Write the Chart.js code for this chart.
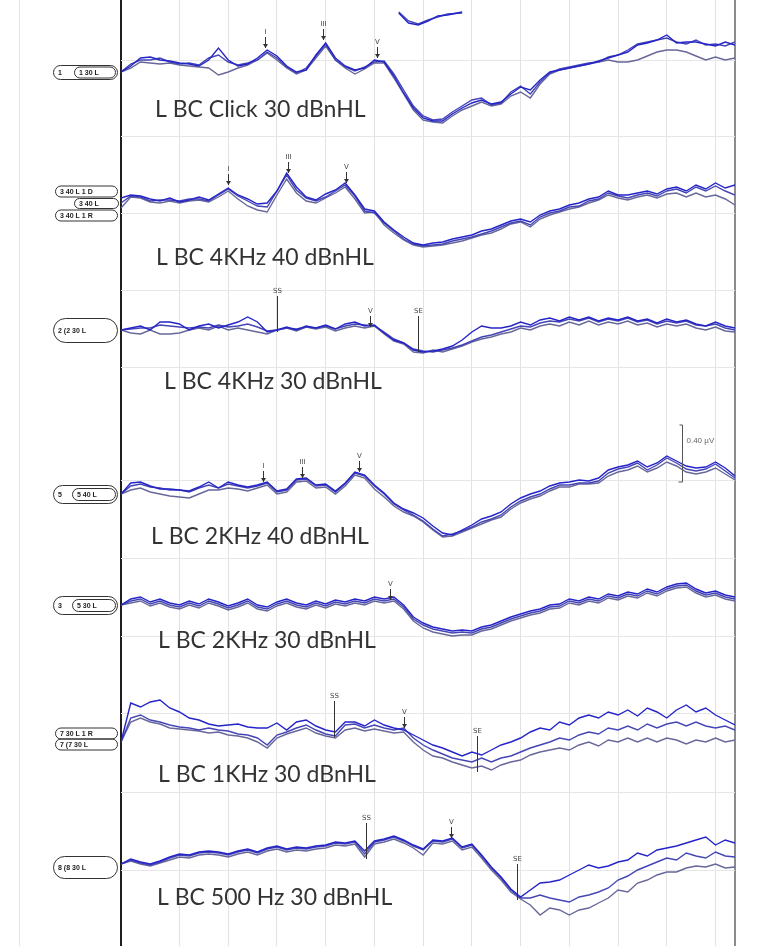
<!DOCTYPE html>
<html>
<head>
<meta charset="utf-8">
<script src="https://cdn.jsdelivr.net/npm/chart.js@4.4.0/dist/chart.umd.min.js"></script>
<style>
  html, body { margin: 0; padding: 0; background: #fff; }
  #wrap { width: 769px; height: 946px; position: relative; }
</style>
</head>
<body>
<div id="wrap"><canvas id="abr" width="769" height="946"></canvas></div>
<script>
// sample times (ms), one sample every 0.2 ms
const times = [-0.2,0,0.2,0.4,0.6,0.8,1,1.2,1.4,1.6,1.8,2,2.2,2.4,2.6,2.8,3,3.2,3.4,3.6,3.8,4,4.2,4.4,4.6,4.8,5,5.2,5.4,5.6,5.8,6,6.2,6.4,6.6,6.8,7,7.2,7.4,7.6,7.8,8,8.2,8.4,8.6,8.8,9,9.2,9.4,9.6,9.8,10,10.2,10.4,10.6,10.8,11,11.2,11.4,11.6,11.8,12,12.2,12.4];

// vertical grid (ms) and horizontal grid (display units)
const gridTimes = [-0.2,1,2,3,4,5,6,7,8,9,10,11,12,12.4];
const hGrid = [60,136,213,290,367,480,558,636,713,792,870];

// recordings, top to bottom
const groupNames = ['L BC Click 30 dBnHL','L BC 4KHz 40 dBnHL','L BC 4KHz 30 dBnHL','L BC 2KHz 40 dBnHL','L BC 2KHz 30 dBnHL','L BC 1KHz 30 dBnHL','L BC 500 Hz 30 dBnHL'];
const traceOffsets = [72,203,330,494,605,740,865];

// amplitudes (up = positive), three sweeps per recording
const clickA = [0,6,14,15,12,11,9,8,6,12,24,12,6,8,14,22,16,6,0,2,17,29,14,6,2,4,12,10,-4,-21,-36,-46,-49,-49,-42,-36,-31,-28,-32,-30,-22,-15,-18,-8,0,2,4,6,8,11,14,17,20,27,29,32,37,29,30,30,28,26,30,27];
const clickB = [0,8,12,12,14,10,8,9,7,14,17,10,7,9,12,20,14,5,-1,4,16,28,12,5,1,5,10,11,-2,-18,-34,-44,-48,-47,-40,-34,-28,-26,-33,-31,-20,-14,-22,-10,-1,3,5,7,9,10,15,17,22,28,30,32,34,30,28,32,27,28,26,30];
const clickC = [0,4,10,9,8,9,7,6,5,4,-3,0,4,7,12,19,12,4,-2,2,14,26,12,4,-2,3,9,9,-6,-22,-38,-48,-50,-51,-44,-38,-34,-30,-34,-32,-24,-20,-26,-12,-2,2,4,6,8,10,12,10,10,12,16,20,22,22,20,16,12,15,12,14];

const k4h40A = [5,8,7,4,2,5,1,3,6,3,9,15,8,4,-1,0,12,30,16,6,3,9,13,20,8,-6,-8,-19,-27,-34,-40,-42,-40,-39,-36,-34,-32,-28,-26,-22,-18,-16,-19,-12,-8,-6,-2,0,4,6,12,8,8,10,12,9,14,16,12,18,14,20,15,18];
const k4h40B = [0,7,6,2,3,3,2,4,4,2,8,14,7,2,-3,-4,12,28,13,5,2,6,12,18,7,-8,-10,-20,-28,-36,-41,-43,-42,-41,-38,-36,-34,-31,-28,-24,-20,-18,-22,-14,-10,-8,-4,-3,2,4,10,7,5,8,10,7,12,14,10,16,12,17,12,8];
const k4h40C = [-5,6,5,1,0,2,0,2,3,1,6,12,4,-3,-7,-9,8,24,10,2,0,5,10,16,4,-10,-9,-22,-30,-37,-42,-44,-43,-42,-40,-38,-35,-32,-30,-26,-21,-19,-24,-16,-12,-9,-6,-4,0,3,8,5,3,6,8,5,9,10,6,10,6,8,4,-2];

const k4h30A = [0,2,4,0,8,8,6,0,4,6,2,5,8,13,8,-2,0,3,0,4,2,5,1,6,8,4,5,-3,-10,-13,-20,-22,-21,-19,-16,-10,-2,4,2,2,4,8,5,10,12,9,13,10,13,9,12,10,13,9,11,7,11,8,10,6,4,8,4,2];
const k4h30B = [0,1,2,2,5,4,3,2,3,2,5,3,4,6,3,-1,0,2,1,3,2,4,1,4,6,5,4,-2,-9,-13,-19,-21,-22,-20,-18,-15,-11,-7,-5,-2,1,4,3,7,9,8,11,9,12,8,11,9,12,8,10,6,9,7,9,5,4,6,2,0];
const k4h30C = [0,-3,-4,0,-4,-4,-3,0,2,0,4,0,2,0,-2,-4,0,2,-1,3,1,3,-1,2,4,2,4,-4,-11,-14,-22,-23,-20,-22,-19,-16,-12,-9,-7,-4,-2,2,0,4,6,4,8,5,9,5,8,6,9,5,7,3,6,4,6,2,0,3,-1,-2];

const k2h40A = [0,11,12,8,5,5,4,3,7,12,6,12,9,7,9,12,3,5,15,16,9,10,3,11,22,19,9,1,-9,-15,-19,-24,-32,-39,-41,-36,-31,-25,-22,-18,-10,-4,0,3,8,11,12,14,13,16,24,27,29,33,27,31,38,33,28,26,27,32,26,18];
const k2h40B = [0,8,10,7,6,4,4,2,6,9,6,10,8,6,8,11,2,4,14,15,8,9,2,10,21,18,8,0,-10,-16,-21,-27,-35,-42,-40,-37,-33,-28,-25,-21,-13,-7,-3,0,5,9,9,11,11,13,21,25,27,31,24,29,36,31,25,23,25,30,23,16];
const k2h40C = [0,4,6,2,0,-2,-3,-4,0,4,4,6,5,3,6,9,0,2,12,13,6,7,0,8,19,16,5,-3,-12,-18,-22,-28,-36,-43,-42,-38,-34,-30,-26,-23,-15,-9,-5,-2,3,7,7,10,10,11,18,22,24,28,22,26,32,28,22,20,22,26,20,14];

const k2h30A = [0,6,8,3,6,2,0,4,1,6,3,-1,2,6,0,-2,3,6,2,0,4,1,5,3,6,4,8,6,8,0,-12,-18,-22,-24,-26,-25,-26,-22,-20,-16,-12,-9,-6,-4,0,1,6,4,8,6,11,9,13,11,16,13,18,21,22,16,12,14,10,8];
const k2h30B = [0,4,6,1,4,0,-2,2,-1,4,1,-3,0,4,-2,-4,1,4,0,-2,2,-1,3,1,4,2,6,4,6,-2,-14,-20,-24,-26,-28,-27,-28,-24,-22,-18,-14,-11,-8,-6,-2,-1,4,2,6,4,9,7,11,9,14,11,16,19,20,14,10,12,8,6];
const k2h30C = [0,2,4,-1,2,-2,-4,0,-3,2,-1,-5,-2,2,-4,-6,-1,2,-2,-4,0,-3,1,-1,2,0,4,2,4,-4,-16,-23,-27,-29,-31,-30,-30,-26,-24,-20,-16,-13,-10,-8,-4,-3,2,0,4,2,7,5,9,7,12,9,14,17,18,12,8,10,6,4];

const k1h30A = [-2,37,33,38,40,32,28,22,20,16,14,15,16,13,12,12,17,10,18,20,14,10,8,18,18,14,20,15,12,10,5,0,-5,-8,-12,-16,-12,-15,-10,-5,-2,2,8,12,10,18,15,22,25,22,28,25,30,24,32,28,22,30,35,28,32,25,20,15];
const k1h30B = [-2,22,25,20,18,15,13,12,10,12,10,9,6,5,2,-5,5,8,12,15,10,6,4,15,16,12,15,12,10,12,2,-5,-10,-14,-18,-20,-22,-18,-22,-18,-16,-12,-8,-5,-2,2,0,5,8,6,12,10,14,10,16,12,16,18,14,18,14,12,14,10];
const k1h30C = [-2,18,22,18,16,12,11,10,9,7,8,5,4,2,-2,-8,2,6,9,12,7,4,2,10,12,9,11,9,7,8,-2,-10,-16,-18,-22,-25,-28,-26,-30,-25,-22,-20,-15,-12,-10,-8,-10,-5,-2,-6,0,-2,2,-2,2,-2,2,0,-4,0,-2,2,-2,0];

const h500A = [1,6,3,1,4,8,11,10,13,14,13,11,14,16,13,17,19,16,18,17,19,20,23,22,24,14,24,26,29,25,20,16,25,24,27,18,21,10,-2,-12,-24,-32,-25,-18,-17,-15,-10,-5,0,-3,-1,3,5,12,9,15,17,19,22,25,28,20,25,22];
const h500B = [1,5,2,0,3,7,10,9,12,13,12,10,13,15,12,16,18,15,17,16,18,19,22,21,23,11,23,25,28,24,19,15,24,23,26,17,20,9,-3,-13,-25,-33,-33,-30,-33,-35,-37,-32,-30,-27,-23,-15,-11,-5,-1,3,7,5,12,9,7,13,9,8];
const h500C = [1,4,1,-1,2,5,8,7,10,11,10,8,11,13,10,14,16,13,15,14,16,17,20,19,21,8,21,23,26,22,17,10,22,21,24,15,18,7,-5,-15,-27,-34,-40,-50,-43,-45,-50,-45,-43,-38,-33,-25,-27,-18,-15,-10,-7,-7,-3,-1,-2,1,-3,-2];

// cut-off piece of a sweep at the very top
const fragTimes = [5.5,5.7,5.9,6.1,6.3,6.5,6.8];
const fragOffset = 20;
const fragA = [7,-3,-5,-1,4,5,8];
const fragB = [8,-1,-4,0,3,6,7];

// peak marks
const markerGroup = [0,0,0,1,1,1,2,2,2,3,3,3,4,5,5,5,6,6,6];
const markerTime = [2.75,3.94,5.06,2.0,3.22,4.41,3.01,4.9,5.89,2.72,3.52,4.69,5.33,4.18,5.6,7.1,4.82,6.58,7.92];
const markerLabel = ['I','III','V','I','III','V','SS','V','SE','I','III','V','V','SS','V','SE','SS','V','SE'];
const markerAmp = [24,32,14,18,30,20,-2,3,-22,12,16,22,5,3,12,-32,6,27,-35];

// amplitude scale bar
const scaleBarGroup = 3;
const scaleBarTime = 11.31;
const scaleBarBase = 12;
const scaleBarSpan = 57;
const scaleBarText = '0.40 \u00b5V';

const sweeps = [
  [clickA, clickB, clickC],
  [k4h40A, k4h40B, k4h40C],
  [k4h30A, k4h30B, k4h30C],
  [k2h40A, k2h40B, k2h40C],
  [k2h30A, k2h30B, k2h30C],
  [k1h30A, k1h30B, k1h30C],
  [h500A, h500B, h500C]
];
const sweepColors = ['#2424c8', '#4545b6', '#67679a'];

const datasets = [];
sweeps.forEach((set, g) => {
  set.forEach((amps, k) => {
    datasets.push({
      data: amps.map((a, i) => ({ x: times[i], y: traceOffsets[g] - a })),
      borderColor: sweepColors[k],
      borderWidth: 1.4,
      pointRadius: 0,
      tension: 0,
      fill: false
    });
  });
});
[fragA, fragB].forEach((amps, k) => {
  datasets.push({
    data: amps.map((a, i) => ({ x: fragTimes[i], y: fragOffset - a })),
    borderColor: sweepColors[k],
    borderWidth: 1.4,
    pointRadius: 0,
    tension: 0
  });
});

// little rounded tags at the left of each recording
const tags = [
  { g: 0, dy: 0, x0: 53, x1: 117, h: 14, text: '1' },
  { g: 0, dy: 0, x0: 74, x1: 115, h: 11, text: '1 30 L' },
  { g: 1, dy: -12, x0: 55, x1: 117, h: 11, text: '3 40 L 1 D' },
  { g: 1, dy: 0, x0: 74, x1: 118, h: 10, text: '3 40 L' },
  { g: 1, dy: 12, x0: 55, x1: 117, h: 11, text: '3 40 L 1 R' },
  { g: 2, dy: 0, x0: 53, x1: 117, h: 24, text: '2 (2 30 L' },
  { g: 3, dy: 0, x0: 53, x1: 117, h: 18, text: '5' },
  { g: 3, dy: 0, x0: 72, x1: 115, h: 12, text: '5 40 L' },
  { g: 4, dy: 0, x0: 53, x1: 117, h: 18, text: '3' },
  { g: 4, dy: 0, x0: 72, x1: 115, h: 12, text: '5 30 L' },
  { g: 5, dy: -7, x0: 55, x1: 117, h: 11, text: '7 30 L 1 R' },
  { g: 5, dy: 4, x0: 55, x1: 117, h: 11, text: '7 (7 30 L' },
  { g: 6, dy: 2, x0: 53, x1: 117, h: 22, text: '8 (8 30 L' }
];
const titlePos = [[155, 38], [156, 55], [164, 52], [151, 43], [158, 36], [158, 35], [157, 33]];

const abrDecor = {
  id: 'abrDecor',
  beforeDraw(chart) {
    const ctx = chart.ctx;
    ctx.save();
    ctx.fillStyle = '#fff';
    ctx.fillRect(0, 0, chart.width, chart.height);
    ctx.strokeStyle = '#e4e4e4';
    ctx.lineWidth = 1;
    ctx.beginPath();
    ctx.moveTo(19.5, 0);
    ctx.lineTo(19.5, chart.height);
    ctx.stroke();
    ctx.restore();
  },
  afterDatasetsDraw(chart) {
    const ctx = chart.ctx;
    const xs = chart.scales.x, ys = chart.scales.y;
    ctx.save();

    // peak marks
    markerTime.forEach((t, k) => {
      const g = markerGroup[k];
      const x = Math.round(xs.getPixelForValue(t)) + 0.5;
      const yTip = ys.getPixelForValue(traceOffsets[g] - markerAmp[k]);
      const lab = markerLabel[k];
      const long = lab === 'SS' || lab === 'SE';
      const len = long ? 36 : 11;
      ctx.strokeStyle = '#333';
      ctx.lineWidth = 1;
      ctx.beginPath();
      ctx.moveTo(x, yTip - len);
      ctx.lineTo(x, yTip);
      ctx.stroke();
      if (!long) {
        ctx.fillStyle = '#333';
        ctx.beginPath();
        ctx.moveTo(x - 2.5, yTip - 4);
        ctx.lineTo(x + 2.5, yTip - 4);
        ctx.lineTo(x, yTip);
        ctx.closePath();
        ctx.fill();
      }
      ctx.fillStyle = '#444';
      ctx.font = '7px "DejaVu Sans"';
      ctx.textAlign = 'center';
      ctx.textBaseline = 'bottom';
      ctx.fillText(lab, x, yTip - len - 1);
    });

    // tags
    tags.forEach(tg => {
      const yc = ys.getPixelForValue(traceOffsets[tg.g]) + tg.dy;
      ctx.strokeStyle = '#333';
      ctx.lineWidth = 1;
      ctx.beginPath();
      ctx.roundRect(tg.x0 + 0.5, yc - tg.h / 2 + 0.5, tg.x1 - tg.x0, tg.h, tg.h / 2);
      ctx.stroke();
      ctx.fillStyle = '#222';
      ctx.font = 'bold 7px "Liberation Sans"';
      ctx.textAlign = 'left';
      ctx.textBaseline = 'middle';
      ctx.fillText(tg.text, tg.x0 + 5, yc + 1);
    });

    // recording titles
    ctx.fillStyle = '#333';
    ctx.font = '23px Lato';
    ctx.textAlign = 'left';
    ctx.textBaseline = 'middle';
    groupNames.forEach((name, g) => {
      const p = titlePos[g];
      ctx.fillText(name, p[0], ys.getPixelForValue(traceOffsets[g]) + p[1]);
    });

    // amplitude bar
    const bx = Math.round(xs.getPixelForValue(scaleBarTime)) + 0.5;
    const yb = ys.getPixelForValue(traceOffsets[scaleBarGroup] - scaleBarBase);
    const yt = ys.getPixelForValue(traceOffsets[scaleBarGroup] - scaleBarBase - scaleBarSpan);
    ctx.strokeStyle = '#555';
    ctx.lineWidth = 1;
    ctx.beginPath();
    ctx.moveTo(bx - 3, yt); ctx.lineTo(bx, yt);
    ctx.lineTo(bx, yb); ctx.lineTo(bx - 4, yb);
    ctx.stroke();
    ctx.fillStyle = '#666';
    ctx.font = '8px "Liberation Sans"';
    ctx.textAlign = 'left';
    ctx.textBaseline = 'middle';
    ctx.fillText(scaleBarText, bx + 4, yt + 16);

    ctx.restore();
  }
};

new Chart(document.getElementById('abr').getContext('2d'), {
  type: 'line',
  data: { datasets },
  options: {
    responsive: false,
    animation: false,
    devicePixelRatio: 1,
    layout: { padding: { left: 121, right: 34, top: 0, bottom: 0 } },
    plugins: { legend: { display: false }, tooltip: { enabled: false } },
    scales: {
      x: {
        type: 'linear',
        min: -0.2,
        max: 12.4,
        afterBuildTicks: s => { s.ticks = gridTimes.map(v => ({ value: v })); },
        afterFit: s => { s.height = 0; },
        ticks: { display: false },
        border: { display: false },
        grid: {
          drawTicks: false,
          color: c => c.tick.value === -0.2 ? '#1e1e1e' : (c.tick.value === 12.4 ? '#8c8c8c' : '#e2e2e2'),
          lineWidth: c => (c.tick.value === -0.2 || c.tick.value === 12.4) ? 2 : 1
        }
      },
      y: {
        type: 'linear',
        min: 0,
        max: 946,
        reverse: true,
        afterBuildTicks: s => { s.ticks = hGrid.map(v => ({ value: v })); },
        afterFit: s => { s.width = 0; },
        ticks: { display: false },
        border: { display: false },
        grid: { drawTicks: false, color: '#e6e6e6', lineWidth: 1 }
      }
    }
  },
  plugins: [abrDecor]
});
</script>
</body>
</html>
